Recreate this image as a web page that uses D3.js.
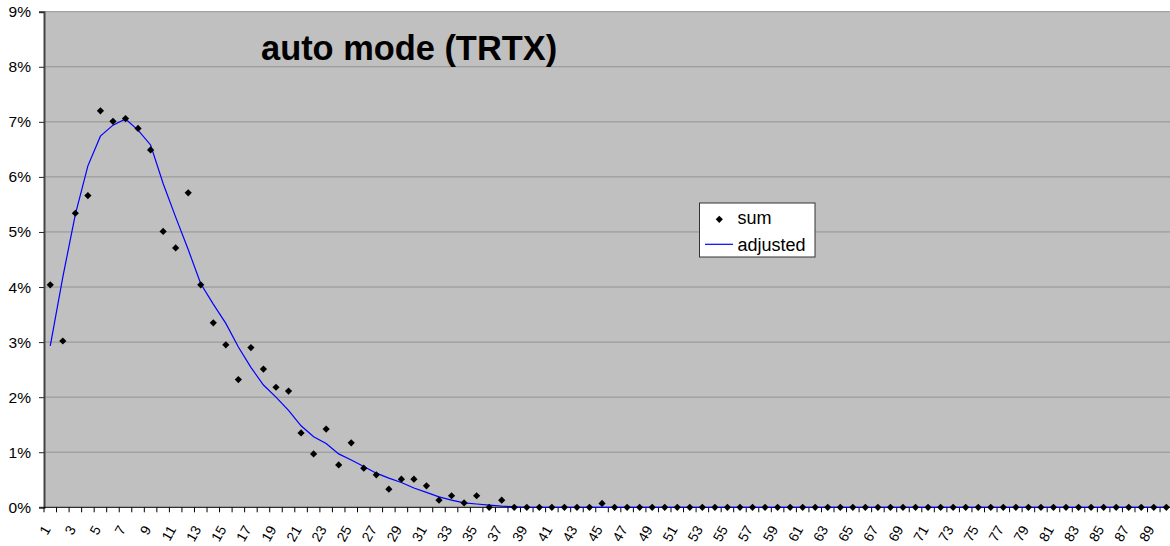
<!DOCTYPE html>
<html>
<head>
<meta charset="utf-8">
<script src="https://cdn.jsdelivr.net/npm/d3@7.9.0/dist/d3.min.js"></script>
<style>
    body { margin: 0; background: #fff; }
    svg { display: block; font-family: "Liberation Sans", Arial, sans-serif; }
</style>
</head>
<body>
<svg width="1170" height="546"></svg>
<script>
// category numbers along the x axis
const categories = [
    1, 2, 3, 4, 5, 6, 7, 8, 9, 10, 11, 12, 13, 14, 15, 16, 17, 18, 19, 20,
    21, 22, 23, 24, 25, 26, 27, 28, 29, 30, 31, 32, 33, 34, 35, 36, 37, 38, 39, 40,
    41, 42, 43, 44, 45, 46, 47, 48, 49, 50, 51, 52, 53, 54, 55, 56, 57, 58, 59, 60,
    61, 62, 63, 64, 65, 66, 67, 68, 69, 70, 71, 72, 73, 74, 75, 76, 77, 78, 79, 80,
    81, 82, 83, 84, 85, 86, 87, 88, 89, 90
];

// "sum" points, in percent
const sumValues = [
    4.04, 3.02, 5.34, 5.66, 7.20, 7.01, 7.06, 6.88, 6.49, 5.01,
    4.71, 5.71, 4.04, 3.35, 2.95, 2.32, 2.90, 2.51, 2.18, 2.11,
    1.35, 0.97, 1.42, 0.77, 1.17, 0.71, 0.59, 0.33, 0.51, 0.51,
    0.39, 0.13, 0.21, 0.08, 0.21, 0.00, 0.13, 0, 0, 0,
    0, 0, 0, 0, 0.07, 0, 0, 0, 0, 0,
    0, 0, 0, 0, 0, 0, 0, 0, 0, 0,
    0, 0, 0, 0, 0, 0, 0, 0, 0, 0,
    0, 0, 0, 0, 0, 0, 0, 0, 0, 0,
    0, 0, 0, 0, 0, 0, 0, 0, 0, 0
];

// "adjusted" line, in percent
const adjustedValues = [
    2.93, 4.18, 5.32, 6.20, 6.74, 6.94, 7.05, 6.85, 6.58, 5.88,
    5.27, 4.68, 4.06, 3.69, 3.34, 2.91, 2.54, 2.22, 2.00, 1.76,
    1.48, 1.28, 1.16, 0.97, 0.86, 0.74, 0.62, 0.53, 0.45, 0.35,
    0.27, 0.19, 0.13, 0.08, 0.06, 0.04, 0.02, 0.01, 0, 0,
    0, 0, 0, 0, 0, 0, 0, 0, 0, 0,
    0, 0, 0, 0, 0, 0, 0, 0, 0, 0,
    0, 0, 0, 0, 0, 0, 0, 0, 0, 0,
    0, 0, 0, 0, 0, 0, 0, 0, 0, 0,
    0, 0, 0, 0, 0, 0, 0, 0, 0, 0
];

const yTicks = [0, 1, 2, 3, 4, 5, 6, 7, 8, 9];
const xTickLabels = categories.filter((c) => c % 2 === 1);

const seriesNames = ['sum', 'adjusted'];
const chartTitle = 'auto mode (TRTX)';

const svg = d3.select('svg');

const plotLeft = 44, plotRight = 1172.6, plotTop = 11.7, plotBottom = 507.3;

const x = d3.scaleBand().domain(categories).range([plotLeft, plotRight]).padding(0);
const y = d3.scaleLinear().domain([0, 9]).range([plotBottom, plotTop]);
const cx = (c) => x(c) + x.bandwidth() / 2;

// plot area
svg.append('rect')
    .attr('x', plotLeft)
    .attr('y', plotTop)
    .attr('width', plotRight - plotLeft)
    .attr('height', plotBottom - plotTop)
    .attr('fill', '#c0c0c0');

// gridlines
svg.append('g')
    .selectAll('line')
    .data(yTicks.filter((d) => d > 0))
    .join('line')
    .attr('x1', plotLeft)
    .attr('x2', plotRight)
    .attr('y1', (d) => y(d))
    .attr('y2', (d) => y(d))
    .attr('stroke', '#939393')
    .attr('stroke-width', 1);

// y axis
let yAxis = svg.append('g')
    .attr('transform', `translate(${plotLeft},0)`)
    .call(d3.axisLeft(y).tickValues(yTicks).tickFormat((d) => d + '%').tickSize(5).tickPadding(8));
yAxis.select('.domain').attr('stroke', '#444').attr('stroke-width', 2);
yAxis.selectAll('.tick line').attr('stroke', '#222');
yAxis.selectAll('.tick text')
    .attr('font-size', 15.5)
    .attr('font-family', '"Liberation Sans", Arial, sans-serif')
    .attr('fill', '#000');

// x axis line + ticks between categories
svg.append('line')
    .attr('x1', plotLeft).attr('x2', plotRight)
    .attr('y1', plotBottom).attr('y2', plotBottom)
    .attr('stroke', '#000');

svg.append('g')
    .selectAll('line')
    .data(categories)
    .join('line')
    .attr('x1', (d) => x(d))
    .attr('x2', (d) => x(d))
    .attr('y1', plotBottom)
    .attr('y2', plotBottom + 5)
    .attr('stroke', '#000');

svg.append('g')
    .selectAll('text')
    .data(xTickLabels)
    .join('text')
    .attr('transform', (d) => `translate(${cx(d) + 1},${plotBottom + 22}) rotate(-60)`)
    .attr('text-anchor', 'end')
    .attr('font-size', 14)
    .text((d) => d);

// adjusted line
let line = d3.line()
    .x((d, i) => cx(categories[i]))
    .y((d) => y(d));

svg.append('path')
    .datum(adjustedValues)
    .attr('d', line)
    .attr('fill', 'none')
    .attr('stroke', '#0000ff')
    .attr('stroke-width', 1.2);

// sum points (diamonds)
let diamond = d3.symbol(d3.symbolSquare, 26);

svg.append('g')
    .selectAll('path')
    .data(sumValues)
    .join('path')
    .attr('d', diamond)
    .attr('transform', (d, i) => `translate(${cx(categories[i])},${y(d)}) rotate(45)`)
    .attr('fill', '#000');

// title
svg.append('text')
    .attr('x', 261)
    .attr('y', 60)
    .attr('font-size', 34.4)
    .attr('font-weight', 'bold')
    .text(chartTitle);

// legend
let legend = svg.append('g');
legend.append('rect')
    .attr('x', 699.5)
    .attr('y', 203)
    .attr('width', 115.5)
    .attr('height', 54)
    .attr('fill', '#fff')
    .attr('stroke', '#333');

legend.append('path')
    .attr('d', diamond)
    .attr('transform', 'translate(719.3,219.3) rotate(45)')
    .attr('fill', '#000');

legend.append('line')
    .attr('x1', 705).attr('x2', 733)
    .attr('y1', 244.3).attr('y2', 244.3)
    .attr('stroke', '#0000ff')
    .attr('stroke-width', 1.2);

legend.selectAll('text')
    .data(seriesNames)
    .join('text')
    .attr('x', 737.5)
    .attr('y', (d, i) => i === 0 ? 224.3 : 250.5)
    .attr('font-size', 18)
    .text((d) => d);
</script>
</body>
</html>
